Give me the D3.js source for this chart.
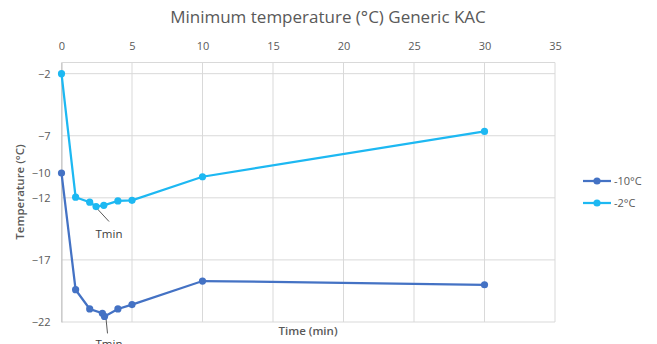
<!DOCTYPE html>
<html><head><meta charset="utf-8">
<script src="https://cdn.jsdelivr.net/npm/d3@7"></script>
<style>body{margin:0;background:#fff}svg{display:block}text{font-family:"Open Sans",sans-serif}</style>
</head><body><svg id="c" width="657" height="344"></svg>
<script>
const title = "Minimum temperature (°C) Generic KAC";
const seriesNames = ["-10°C", "-2°C"];
const seriesColors = ["#4472C4", "#1DB8F2"];
const timesCold = [0, 1, 2, 2.9, 3.05, 4, 5, 10, 30];
const tempsCold = [-10, -19.4, -20.95, -21.3, -21.55, -20.95, -20.6, -18.7, -19.0];
const timesWarm = [0, 1, 2, 2.45, 3, 4, 5, 10, 30];
const tempsWarm = [-2, -11.95, -12.35, -12.7, -12.6, -12.25, -12.2, -10.3, -6.65];
const xTicks = [0, 5, 10, 15, 20, 25, 30, 35];
const yTickLabels = [-2, -7, -10, -12, -17, -22];
const yGrid = [-2, -7, -12, -17, -22];
const tminIndexCold = 4, tminIndexWarm = 3;

const svg = d3.select("#c");
const x = d3.scaleLinear().domain([0, 35]).range([61.5, 555]);
const y = d3.scaleLinear().domain([-22, -1.1]).range([322, 62.5]);
const grid = "#d9d9d9", txt = "#595959";

svg.append("text").attr("x", 328).attr("y", 23).attr("text-anchor", "middle")
  .attr("font-size", 17).attr("fill", txt).text(title);

// gridlines
svg.append("g").selectAll("line").data(xTicks).join("line")
  .attr("x1", d => x(d)).attr("x2", d => x(d)).attr("y1", y(-1.1)).attr("y2", y(-22))
  .attr("stroke", grid).attr("stroke-width", 1);
svg.append("g").selectAll("line").data(yGrid).join("line")
  .attr("x1", x(0)).attr("x2", x(35)).attr("y1", d => y(d)).attr("y2", d => y(d))
  .attr("stroke", grid).attr("stroke-width", 1);
svg.append("line").attr("x1", x(0)).attr("x2", x(35)).attr("y1", y(-1.1)).attr("y2", y(-1.1))
  .attr("stroke", grid);

// top x-axis labels
const xa = svg.append("g").attr("transform", `translate(0,${y(-1.1)})`)
  .call(d3.axisTop(x).tickValues(xTicks).tickSize(0).tickPadding(13).tickFormat(d3.format("d")));
xa.select(".domain").remove();
xa.selectAll("text").attr("fill", txt).attr("font-size", 11).attr("font-family", "Open Sans");

// left y labels
const ya = svg.append("g").attr("transform", `translate(${x(0)},0)`)
  .call(d3.axisLeft(y).tickValues(yTickLabels).tickSize(0).tickPadding(11).tickFormat(d3.format("d")));
ya.select(".domain").attr("stroke", "#bfbfbf");
ya.selectAll("text").attr("fill", txt).attr("font-size", 11).attr("font-family", "Open Sans");

// axis titles
svg.append("text").attr("transform", "translate(24,192) rotate(-90)").attr("text-anchor", "middle")
  .attr("font-size", 11.5).attr("fill", txt).attr("font-weight", 600).text("Temperature (°C)");
svg.append("text").attr("x", 308).attr("y", 335).attr("text-anchor", "middle")
  .attr("font-size", 11.5).attr("fill", txt).attr("font-weight", 600).text("Time (min)");

const line = d3.line().x(d => x(d[0])).y(d => y(d[1]));
const data = [d3.zip(timesCold, tempsCold), d3.zip(timesWarm, tempsWarm)];

// annotations
function tmin(pt, dx1, dy1, dx2, dy2, ly) {
  svg.append("line").attr("x1", x(pt[0]) + dx1).attr("y1", y(pt[1]) + dy1)
    .attr("x2", x(pt[0]) + dx2).attr("y2", y(pt[1]) + dy2).attr("stroke", "#595959").attr("stroke-width", 1);
  svg.append("text").attr("x", 109).attr("y", ly).attr("text-anchor", "middle")
    .attr("font-size", 11.5).attr("fill", "#404040").text("Tmin");
}
tmin(data[1][tminIndexWarm], 1, 2, 13, 15, 238);
tmin(data[0][tminIndexCold], 1.5, 2, 3, 17, 348);

data.forEach((d, i) => {
  svg.append("path").datum(d).attr("d", line).attr("fill", "none")
    .attr("stroke", seriesColors[i]).attr("stroke-width", 2.25);
  svg.append("g").selectAll("circle").data(d).join("circle")
    .attr("cx", p => x(p[0])).attr("cy", p => y(p[1])).attr("r", 3.6).attr("fill", seriesColors[i]);
});

// legend
const lg = svg.append("g");
seriesNames.forEach((n, i) => {
  const yy = 181 + i * 22;
  lg.append("line").attr("x1", 583).attr("x2", 611).attr("y1", yy).attr("y2", yy)
    .attr("stroke", seriesColors[i]).attr("stroke-width", 2.25);
  lg.append("circle").attr("cx", 597).attr("cy", yy).attr("r", 3.6).attr("fill", seriesColors[i]);
  lg.append("text").attr("x", 614).attr("y", yy + 4).attr("font-size", 11).attr("fill", txt).text(n);
});
</script></body></html>
